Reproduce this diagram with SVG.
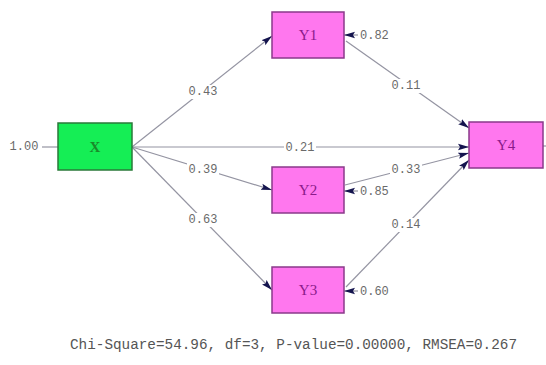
<svg xmlns="http://www.w3.org/2000/svg" width="546" height="365" viewBox="0 0 546 365">
<style>
.bx{fill:#ff77ee;stroke:#8a3a8a;stroke-width:1.5}
.bg{fill:#15ee55;stroke:#2a7a3a;stroke-width:1.5}
.nt{font-family:"Liberation Serif",serif;font-size:15px;text-anchor:middle;dominant-baseline:central}
.ln{stroke:#9494a2;stroke-width:1.2;fill:none}
.ar{marker-end:url(#ah)}
.lb{font-family:"Liberation Mono",monospace;font-size:12px;fill:#6a6a6a;text-anchor:middle;dominant-baseline:central}
.er{font-family:"Liberation Mono",monospace;font-size:12px;fill:#6a6a6a;dominant-baseline:central}
.wb{fill:#fff}
</style>
<defs>
<marker id="ah" markerUnits="userSpaceOnUse" markerWidth="12" markerHeight="8" refX="11" refY="4" orient="auto">
<path d="M0,0.8 L11,4 L0,7.2 L2,4 Z" fill="#14144e"/>
</marker>
</defs>
<rect width="546" height="365" fill="#fff"/>
<g id="connectors">
<line class="ln" x1="42" y1="147" x2="58" y2="147"/>
<line class="ln ar" x1="132" y1="147" x2="272" y2="36"/>
<line class="ln ar" x1="132" y1="147" x2="469" y2="147"/>
<line class="ln ar" x1="132" y1="147" x2="272" y2="190"/>
<line class="ln ar" x1="132" y1="147" x2="272" y2="290"/>
<line class="ln ar" x1="346" y1="41" x2="469" y2="128"/>
<line class="ln ar" x1="345" y1="185" x2="469" y2="153"/>
<line class="ln ar" x1="346" y1="287" x2="469" y2="160"/>
<line class="ln ar" x1="358" y1="35" x2="344" y2="35"/>
<line class="ln ar" x1="358" y1="191" x2="344" y2="191"/>
<line class="ln ar" x1="358" y1="291" x2="344" y2="291"/>
<line class="ln" x1="543" y1="146" x2="546" y2="146"/>
<rect class="wb" x="187" y="85" width="32" height="14"/><text class="lb" x="203" y="92">0.43</text>
<rect class="wb" x="284" y="141" width="32" height="14"/><text class="lb" x="300" y="148">0.21</text>
<rect class="wb" x="187" y="163" width="32" height="14"/><text class="lb" x="203" y="170">0.39</text>
<rect class="wb" x="187" y="213" width="32" height="14"/><text class="lb" x="203" y="220">0.63</text>
<rect class="wb" x="390" y="79" width="32" height="14"/><text class="lb" x="406" y="86">0.11</text>
<rect class="wb" x="390" y="163" width="32" height="14"/><text class="lb" x="406" y="170">0.33</text>
<rect class="wb" x="390" y="218" width="32" height="14"/><text class="lb" x="406" y="225">0.14</text>
<text class="lb" x="24" y="147">1.00</text>
<text class="er" x="360" y="36">0.82</text>
<text class="er" x="360" y="192">0.85</text>
<text class="er" x="360" y="292">0.60</text>
</g>
<g id="X"><rect class="bg" x="58" y="123" width="74" height="47"/><text class="nt" x="95" y="147" fill="#1a8a2a" font-weight="bold" font-size="17">X</text></g>
<g id="Y1"><rect class="bx" x="272" y="12" width="72" height="46"/><text class="nt" x="308" y="35" fill="#8a1a8a">Y1</text></g>
<g id="Y2"><rect class="bx" x="272" y="167" width="72" height="46"/><text class="nt" x="308" y="190" fill="#8a1a8a">Y2</text></g>
<g id="Y3"><rect class="bx" x="272" y="267" width="72" height="46"/><text class="nt" x="308" y="290" fill="#8a1a8a">Y3</text></g>
<g id="Y4"><rect class="bx" x="469" y="122" width="74" height="46"/><text class="nt" x="506" y="145" fill="#8a1a8a">Y4</text></g>
<text x="70" y="349" font-family="Liberation Mono,monospace" font-size="14" fill="#555" textLength="447" lengthAdjust="spacingAndGlyphs">Chi-Square=54.96, df=3, P-value=0.00000, RMSEA=0.267</text>
</svg>
